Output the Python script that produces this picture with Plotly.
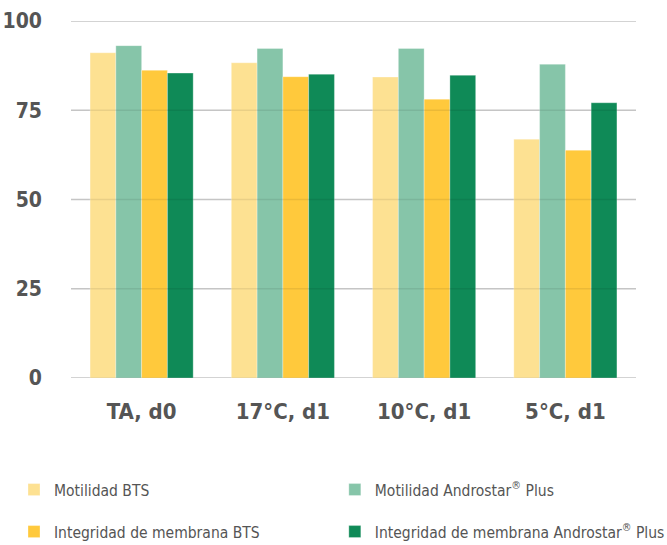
import plotly.graph_objects as go

categories = ["TA, d0", "17°C, d1", "10°C, d1", "5°C, d1"]
motilidad_bts = [91.1, 88.3, 84.3, 66.9]
motilidad_andro = [93.1, 92.3, 92.3, 87.9]
integridad_bts = [86.2, 84.4, 78.1, 63.8]
integridad_andro = [85.4, 85.1, 84.8, 77.1]
y_ticks = [0, 25, 50, 75, 100]

series = [
    ("Motilidad BTS", motilidad_bts, "#FDE192", "legend"),
    ("Motilidad Androstar<sup>®</sup> Plus", motilidad_andro, "#86C5A9", "legend2"),
    ("Integridad de membrana BTS", integridad_bts, "#FFC93C", "legend3"),
    ("Integridad de membrana Androstar<sup>®</sup> Plus", integridad_andro, "#0F8A57", "legend4"),
]

fig = go.Figure()
for name, vals, color, lg in series:
    fig.add_trace(go.Bar(
        x=categories, y=vals, name=name, legend=lg,
        marker=dict(color=color, line=dict(color="rgba(255,255,255,0.5)", width=0.6)),
    ))

for t in y_ticks:
    fig.add_shape(type="line", xref="paper", yref="y", x0=0, x1=1, y0=t, y1=t,
                  line=dict(color="rgba(0,0,0,0.16)", width=1.5), layer="below")
    fig.add_shape(type="line", xref="paper", yref="y", x0=0, x1=1, y0=t, y1=t,
                  line=dict(color="rgba(0,0,0,0.08)", width=1.5), layer="above")

font_bold = "DejaVu Sans Condensed, Liberation Sans Narrow, sans-serif"
leg_font = dict(family=font_bold, size=15.5, color="#555555")

def leg(x, y):
    return dict(x=x, y=y, xref="container", yref="container", xanchor="left", yanchor="middle",
                font=leg_font, bgcolor="rgba(0,0,0,0)", itemwidth=30)

fig.update_layout(
    width=667, height=545,
    margin=dict(l=71, r=31, t=21, b=167, autoexpand=False),
    plot_bgcolor="white", paper_bgcolor="white",
    barmode="group", bargap=0.27, bargroupgap=0,
    showlegend=True,
    legend=leg(0.021, 1 - 490 / 545),
    legend2=leg(0.502, 1 - 490 / 545),
    legend3=leg(0.021, 1 - 532 / 545),
    legend4=leg(0.502, 1 - 532 / 545),
    xaxis=dict(
        showgrid=False, showline=False, ticks="", automargin=False, tickangle=0,
        tickfont=dict(family=font_bold, size=22, color="#555555", weight="bold"),
        ticklabelstandoff=18,
    ),
    yaxis=dict(
        range=[0, 100], tickvals=y_ticks, showgrid=False, zeroline=False, showline=False,
        ticks="", automargin=False,
        tickfont=dict(family=font_bold, size=21, color="#555555", weight="bold"),
        ticklabelstandoff=28,
    ),
)

fig.write_html("out.html", config={"displayModeBar": False},
               post_script="document.body.style.margin='0';")
